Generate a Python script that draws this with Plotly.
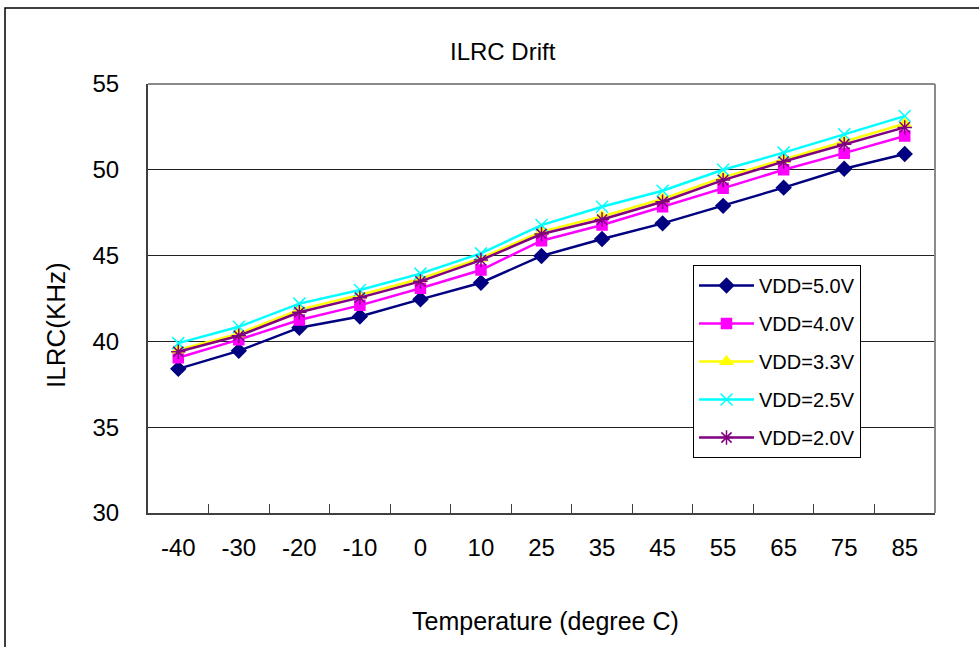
import plotly.graph_objects as go

temps = ["-40", "-30", "-20", "-10", "0", "10", "25", "35", "45", "55", "65", "75", "85"]
vdd50 = [38.4, 39.45, 40.8, 41.45, 42.45, 43.42, 44.98, 45.97, 46.88, 47.9, 48.96, 50.06, 50.92]
vdd40 = [39.05, 40.1, 41.25, 42.1, 43.1, 44.16, 45.87, 46.78, 47.85, 48.92, 50.0, 50.97, 51.97]
vdd33 = [39.5, 40.45, 41.85, 42.7, 43.65, 44.85, 46.4, 47.28, 48.3, 49.56, 50.6, 51.65, 52.68]
vdd25 = [39.9, 40.85, 42.2, 43.0, 43.95, 45.13, 46.78, 47.85, 48.78, 50.0, 51.0, 52.07, 53.13]
vdd20 = [39.4, 40.33, 41.7, 42.55, 43.5, 44.74, 46.26, 47.1, 48.14, 49.4, 50.48, 51.49, 52.47]

series = [
    ("VDD=5.0V", vdd50, "#000080", "diamond", 11),
    ("VDD=4.0V", vdd40, "#FF00FF", "square", 10),
    ("VDD=3.3V", vdd33, "#FFFF00", "triangle-up", 11),
    ("VDD=2.5V", vdd25, "#00FFFF", "x-thin-open", 12),
    ("VDD=2.0V", vdd20, "#800080", "asterisk-open", 12),
]

FONT = "Liberation Sans, Arial, sans-serif"
W, H = 979, 647
L, R, T, B = 148, 935, 84, 513

def px(x):
    return (x - L) / (R - L)

def py(y):
    return (B - y) / (B - T)

fig = go.Figure()
for i, (name, vals, col, sym, sz) in enumerate(series):
    fig.add_trace(go.Scatter(
        x=temps, y=vals, name=name, mode="lines+markers",
        legendgroup=f"g{i}",
        line=dict(color=col, width=2.5),
        marker=dict(symbol=sym, size=sz, color=col,
                    line=dict(color=col, width=1.5)),
    ))

shapes = [
    dict(type="rect", xref="paper", yref="paper", x0=px(5), x1=px(990), y0=py(660), y1=py(8),
         line=dict(color="#000000", width=1.5), layer="below"),
    dict(type="line", xref="paper", yref="paper", x0=0, x1=1, y0=1, y1=1,
         line=dict(color="#8a8a8a", width=2)),
    dict(type="line", xref="paper", yref="paper", x0=1, x1=1, y0=0, y1=1,
         line=dict(color="#8a8a8a", width=2)),
]

annotations = [
    dict(text="ILRC Drift", xref="paper", yref="paper", x=px(503), y=py(51),
         showarrow=False, font=dict(family=FONT, size=24, color="#000"),
         xanchor="center", yanchor="middle"),
    dict(text="Temperature (degree C)", xref="paper", yref="paper", x=px(545), y=py(621),
         showarrow=False, font=dict(family=FONT, size=25, color="#000"),
         xanchor="center", yanchor="middle"),
    dict(text="ILRC(KHz)", xref="paper", yref="paper", x=px(56), y=py(325),
         showarrow=False, textangle=-90, font=dict(family=FONT, size=26, color="#000"),
         xanchor="center", yanchor="middle"),
]

fig.update_layout(
    width=W, height=H,
    margin=dict(l=L, r=W - R, t=T, b=H - B, pad=0),
    paper_bgcolor="white", plot_bgcolor="white",
    font=dict(family=FONT, size=24, color="#000"),
    showlegend=True,
    legend=dict(
        x=px(693), y=py(265), xanchor="left", yanchor="top",
        bordercolor="#000", borderwidth=1, bgcolor="white",
        font=dict(family=FONT, size=20, color="#000"),
        tracegroupgap=9, itemwidth=55,
    ),
    shapes=shapes,
    annotations=annotations,
    xaxis=dict(
        type="category", range=[-0.5, len(temps) - 0.5], autorange=False,
        showgrid=False, zeroline=False,
        showline=True, linecolor="#404040", linewidth=2,
        ticks="inside", tickson="boundaries", ticklen=9, tickcolor="#404040", tickwidth=1,
        tickfont=dict(family=FONT, size=24, color="#000"),
        ticklabelstandoff=12,
    ),
    yaxis=dict(
        range=[30, 55], dtick=5, tick0=30,
        showgrid=True, gridcolor="#222", gridwidth=1, zeroline=False,
        showline=True, linecolor="#404040", linewidth=2,
        ticks="", tickfont=dict(family=FONT, size=24, color="#000"),
        ticklabelstandoff=22,
    ),
)

fig.write_html("out.html")
